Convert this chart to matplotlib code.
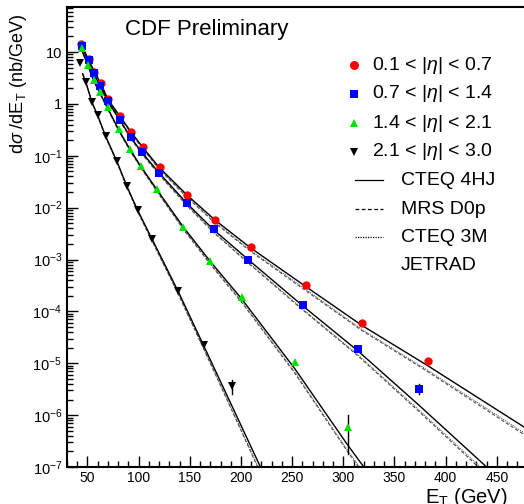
import matplotlib
matplotlib.use("Agg")
import matplotlib.pyplot as plt
from matplotlib.ticker import MultipleLocator, LogLocator, NullFormatter

plt.rcParams["font.family"] = ["Liberation Sans", "DejaVu Sans"]
plt.rcParams["mathtext.fontset"] = "custom"
plt.rcParams["mathtext.rm"] = "Liberation Sans"
plt.rcParams["mathtext.it"] = "Liberation Sans:italic"

# --- measured points (E_T in GeV, d sigma/dE_T in nb/GeV) ---
et_eta1 = [44, 51.2, 56.6, 63.2, 70.3, 81.7, 92.7, 103.8, 120.4, 147.7, 175.0, 209.4, 264.0, 318.2, 382.5]
xs_eta1 = [14.1, 7.4, 4.17, 2.55, 1.25, 0.59, 0.289, 0.149, 0.062, 0.0174, 0.0058, 0.00175, 3.18e-4, 6.1e-5, 1.1e-5]

et_eta2 = [44.3, 51.2, 56.3, 62.5, 70.0, 81.7, 92.4, 103.4, 119.7, 147.0, 173.3, 206.7, 260.7, 314.0, 374.4]
xs_eta2 = [13.2, 7.0, 3.88, 2.24, 1.15, 0.487, 0.229, 0.117, 0.047, 0.0122, 0.00383, 0.000995, 1.32e-4, 1.9e-5, 3.2e-6]

et_eta3 = [44.3, 50.5, 56.0, 62.2, 69.7, 80.4, 91.4, 102.1, 117.7, 143.8, 170.1, 200.6, 252.5, 304.2]
xs_eta3 = [11.8, 5.6, 2.88, 1.67, 0.855, 0.327, 0.138, 0.065, 0.023, 0.00431, 9.5e-4, 1.89e-4, 1.05e-5, 5.9e-7]

et_eta4 = [42.4, 48.5, 54.4, 59.9, 67.7, 78.8, 88.5, 99.2, 113.5, 138.9, 163.5, 191.1]
xs_eta4 = [6.05, 2.67, 1.10, 0.608, 0.242, 0.0787, 0.0267, 0.0092, 0.0025, 2.43e-4, 2.28e-5, 3.7e-6]

# visible error bars only (low, high)
err_et = [374.4, 191.1, 304.2]
err_lo = [2.6e-6, 2.5e-6, 1.8e-7]
err_hi = [3.9e-6, 4.8e-6, 1.0e-6]

# --- JETRAD curves: CTEQ 4HJ (solid), MRS D0p (dashed), CTEQ 3M (dotted) ---
th_et1 = [44, 51, 57, 63, 70, 82, 93, 104, 120, 148, 175, 209, 264, 318, 382, 500]
cteq4_1 = [13.5, 7.2, 4.1, 2.5, 1.22, 0.57, 0.28, 0.146, 0.060, 0.0170, 0.0057, 0.0017, 2.95e-4, 5.4e-5, 9.1e-6, 3.0e-7]
mrs_1 = [13.5, 7.03, 4.01, 2.42, 1.17, 0.544, 0.264, 0.136, 0.0552, 0.0153, 0.0050, 0.00146, 2.45e-4, 4.3e-5, 7.0e-6, 2.1e-7]
cteq3_1 = [13.5, 7.1, 4.05, 2.45, 1.19, 0.55, 0.268, 0.138, 0.0565, 0.0158, 0.0052, 0.00152, 2.6e-4, 4.5e-5, 7.4e-6, 2.3e-7]

th_et2 = [44, 51, 56, 62.5, 70, 82, 92.4, 103.4, 120, 147, 173, 207, 261, 314, 374, 440, 450]
cteq4_2 = [13.0, 6.9, 3.9, 2.2, 1.12, 0.48, 0.225, 0.115, 0.047, 0.0122, 0.0038, 0.00100, 1.25e-4, 1.75e-5, 1.55e-6, 1.0e-7, 6.6e-8]
mrs_2 = [13.0, 6.75, 3.81, 2.13, 1.07, 0.458, 0.212, 0.107, 0.0434, 0.0110, 0.00335, 0.00086, 1.04e-4, 1.41e-5, 1.17e-6, 7.1e-8, 4.7e-8]
cteq3_2 = [13.0, 6.8, 3.84, 2.16, 1.09, 0.465, 0.216, 0.109, 0.0445, 0.0113, 0.00345, 0.00089, 1.08e-4, 1.47e-5, 1.25e-6, 7.7e-8, 5.1e-8]

th_et3 = [44, 50.5, 56, 62, 69.7, 80.4, 91.4, 102, 117.7, 143.8, 170, 200.6, 252.5, 304, 320, 330]
cteq4_3 = [11.5, 5.5, 2.85, 1.65, 0.84, 0.32, 0.135, 0.063, 0.0225, 0.0042, 9.2e-4, 1.75e-4, 7.9e-6, 2.7e-7, 1.0e-7, 5.2e-8]
mrs_3 = [11.5, 5.38, 2.79, 1.6, 0.80, 0.305, 0.127, 0.059, 0.0208, 0.0038, 8.1e-4, 1.5e-4, 6.5e-6, 2.0e-7, 7.2e-8, 3.8e-8]
cteq3_3 = [11.5, 5.42, 2.81, 1.62, 0.81, 0.31, 0.129, 0.060, 0.0212, 0.0039, 8.4e-4, 1.56e-4, 6.8e-6, 2.1e-7, 7.8e-8, 4.1e-8]

th_et4 = [45.3, 48.5, 54.4, 60, 67.7, 78.8, 88.5, 99.2, 113.5, 139, 163.5, 191, 219, 225]
cteq4_4 = [3.8, 2.6, 1.08, 0.6, 0.24, 0.078, 0.026, 0.0088, 0.0024, 2.35e-4, 2.2e-5, 1.53e-6, 1.0e-7, 5.6e-8]
mrs_4 = [3.8, 2.55, 1.05, 0.58, 0.23, 0.0745, 0.0245, 0.0082, 0.0022, 2.1e-4, 1.9e-5, 1.25e-6, 7.6e-8, 4.2e-8]
cteq3_4 = [3.8, 2.57, 1.06, 0.585, 0.233, 0.0755, 0.025, 0.0084, 0.00225, 2.15e-4, 1.95e-5, 1.3e-6, 8.0e-8, 4.4e-8]

y_tick_vals = [1e-7, 1e-6, 1e-5, 1e-4, 1e-3, 1e-2, 1e-1, 1, 10]
y_tick_labels = [r"$10^{-7}$", r"$10^{-6}$", r"$10^{-5}$", r"$10^{-4}$", r"$10^{-3}$",
                 r"$10^{-2}$", r"$10^{-1}$", "1", "10"]
x_tick_vals = [50, 100, 150, 200, 250, 300, 350, 400, 450]

bin_labels = [r"0.1 < |$\eta$| < 0.7", r"0.7 < |$\eta$| < 1.4",
              r"1.4 < |$\eta$| < 2.1", r"2.1 < |$\eta$| < 3.0"]
pdf_labels = ["CTEQ 4HJ", "MRS D0p", "CTEQ 3M"]

W, H = 524, 504


def fx(px):
    return px / W


def fy(py):
    return 1 - py / H


fig = plt.figure(figsize=(W / 100, H / 100), dpi=100)
ax = fig.add_axes([fx(67), fy(467), (548 - 67) / W, (467 - 7) / H])

for et, sol, das, dot in [(th_et1, cteq4_1, mrs_1, cteq3_1), (th_et2, cteq4_2, mrs_2, cteq3_2),
                          (th_et3, cteq4_3, mrs_3, cteq3_3), (th_et4, cteq4_4, mrs_4, cteq3_4)]:
    ax.plot(et, dot, color="0.35", linestyle=(0, (1, 1)), linewidth=0.8)
    ax.plot(et, das, color="0.3", linestyle=(0, (3, 2)), linewidth=0.8)
    ax.plot(et, sol, color="black", linewidth=1.0)

for e, lo, hi in zip(err_et, err_lo, err_hi):
    ax.plot([e, e], [lo, hi], color="black", linewidth=1.0)

ax.plot(et_eta1, xs_eta1, "o", color="red", markersize=6, markeredgewidth=0)
ax.plot(et_eta2, xs_eta2, "s", color="blue", markersize=6, markeredgewidth=0)
ax.plot(et_eta3, xs_eta3, "^", color="#00e000", markersize=6, markeredgewidth=0)
ax.plot(et_eta4, xs_eta4, "v", color="black", markersize=5.5, markeredgewidth=0)

ax.set_yscale("log")
ax.set_xlim(30, 500)
ax.set_ylim(1e-7, 74)
ax.set_xticks(x_tick_vals)
ax.xaxis.set_minor_locator(MultipleLocator(10))
ax.set_yticks(y_tick_vals)
ax.set_yticklabels(y_tick_labels)
ax.yaxis.set_minor_locator(LogLocator(base=10, subs=range(2, 10), numticks=20))
ax.yaxis.set_minor_formatter(NullFormatter())
ax.tick_params(which="both", direction="in", top=False, right=False, width=1.0, labelsize=10.5)
ax.tick_params(which="major", length=8)
ax.tick_params(which="minor", length=4)
ax.tick_params(axis="x", pad=3, labelsize=10)
for side in ax.spines.values():
    side.set_linewidth(1.5)

# legend drawn by hand
marker_styles = [("o", "red", 6.5), ("s", "blue", 6), ("^", "#00e000", 6), ("v", "black", 5.5)]
rows = [65, 94, 123, 152]
for (mk, col, ms), row, lab in zip(marker_styles, rows, bin_labels):
    fig.add_artist(plt.Line2D([fx(354)], [fy(row)], marker=mk, color=col, markersize=ms,
                              markeredgewidth=0, linestyle="none"))
    fig.text(fx(372), fy(row), lab, fontsize=14, va="center", ha="left")

line_styles = ["-", (0, (3, 2)), (0, (1, 1))]
line_rows = [180, 209, 237]
for ls, row, lab in zip(line_styles, line_rows, pdf_labels):
    fig.add_artist(plt.Line2D([fx(355), fx(383)], [fy(row), fy(row)], color="black",
                              linestyle=ls, linewidth=0.9))
    fig.text(fx(401), fy(row), lab, fontsize=14, va="center", ha="left")
fig.text(fx(401), fy(266), "JETRAD", fontsize=14, va="center", ha="left")

fig.text(fx(125), fy(30), "CDF Preliminary", fontsize=16, va="center", ha="left")
fig.text(fx(19), fy(84), r"d$\sigma$ /dE$_\mathrm{T}$ (nb/GeV)", fontsize=13,
         rotation=90, va="center", ha="center")
fig.text(fx(425), fy(503), r"E$_\mathrm{T}$ (GeV)", fontsize=14.5, va="baseline", ha="left")

fig.savefig("out.png", dpi=100)
